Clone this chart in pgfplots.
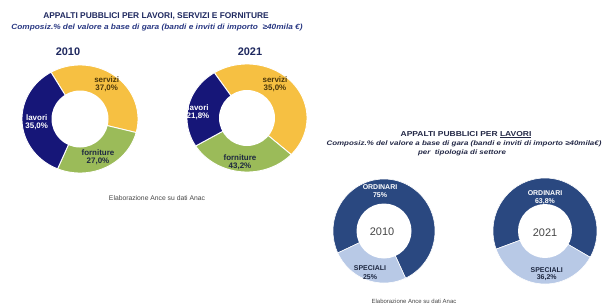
\documentclass[border=0pt]{standalone}
\usepackage{pgfplots}
\usepackage{pgfplotstable}
\pgfplotsset{compat=1.18}
\usepackage{graphicx}
\usepackage{fontspec}
\setmainfont{Liberation Sans}

\definecolor{cNavy}{RGB}{22,22,120}
\definecolor{cYel}{RGB}{246,192,66}
\definecolor{cGreen}{RGB}{155,187,89}
\definecolor{cOrd}{RGB}{42,72,128}
\definecolor{cSpe}{RGB}{184,201,230}
\definecolor{cTitle}{RGB}{30,40,95}
\definecolor{cSub}{RGB}{40,55,130}
\definecolor{cTitleB}{RGB}{35,40,70}
\definecolor{cBrown}{RGB}{75,55,10}
\definecolor{cDark}{RGB}{30,40,65}
\definecolor{cGray}{RGB}{70,70,70}

% shares as drawn in the picture
\pgfplotstableread{
label value color
servizi 37.0 cYel
forniture 27.0 cGreen
lavori 35.0 cNavy
}\tabAa
\pgfplotstableread{
label value color
servizi 46.0 cYel
forniture 29.5 cGreen
lavori 24.5 cNavy
}\tabAb
\pgfplotstableread{
label value color
ORDINARI 75.0 cOrd
SPECIALI 25.0 cSpe
}\tabBa
\pgfplotstableread{
label value color
ORDINARI 63.8 cOrd
SPECIALI 36.2 cSpe
}\tabBb

% #1 table, #2 start angle (clockwise), #3 separator width
\newcommand{\donut}[3]{%
  \pgfplotstablegetrowsof{#1}%
  \pgfmathtruncatemacro\lastrow{\pgfplotsretval-1}%
  \def\donuttot{0}%
  \pgfplotsforeachungrouped \i in {0,...,\lastrow}{%
    \pgfplotstablegetelem{\i}{value}\of{#1}%
    \pgfmathsetmacro\donuttot{\donuttot+\pgfplotsretval}%
  }%
  \def\donutcur{#2}%
  \pgfplotsforeachungrouped \i in {0,...,\lastrow}{%
    \pgfplotstablegetelem{\i}{value}\of{#1}\let\sliceval\pgfplotsretval
    \pgfplotstablegetelem{\i}{color}\of{#1}\let\slicecol\pgfplotsretval
    \pgfmathsetmacro\donutnxt{\donutcur-\sliceval/\donuttot*360}%
    \edef\doslice{\noexpand\addplot[fill=\slicecol,draw=white,line width=#3,domain=\donutnxt:\donutcur,samples=90] ({cos(x)},{sin(x)}) -- (axis cs:0,0) -- cycle;}%
    \doslice
    \let\donutcur\donutnxt
  }%
}

\pgfplotsset{donutax/.style={scale only axis, hide axis, xmin=-1,xmax=1,ymin=-1,ymax=1, anchor=origin}}
\tikzset{
  lab/.style={inner sep=0, font=\bfseries\fontsize{8}{9}\selectfont},
  labR/.style={inner sep=0, font=\bfseries\fontsize{7}{8}\selectfont},
}

\begin{document}
\begin{tikzpicture}
\path[use as bounding box] (0,0) rectangle (603bp,-307bp);

% ---- left panel ----
\node[inner sep=0, text=cTitle, font=\bfseries\fontsize{8.4}{9}\selectfont] at (156bp,-16bp) {APPALTI PUBBLICI PER LAVORI, SERVIZI E FORNITURE};
\node[inner sep=0, text=cSub, font=\bfseries\itshape\fontsize{7.5}{9}\selectfont] at (157bp,-27.5bp) {\scalebox{1.11}[1]{Composiz.\% del valore a base di gara (bandi e inviti di importo \ ≥40mila €)}};
\node[inner sep=0, text=cTitle, font=\bfseries\fontsize{11}{12}\selectfont] at (68bp,-52bp) {2010};
\node[inner sep=0, text=cTitle, font=\bfseries\fontsize{11}{12}\selectfont] at (250bp,-52bp) {2021};

\begin{axis}[donutax, at={(80bp,-119bp)}, width=116bp, height=108bp]
  \donut{\tabAa}{120}{0.9pt}
  \fill[white] (axis cs:0,0) ellipse [x radius=28.5bp, y radius=28.5bp];
\end{axis}
\begin{axis}[donutax, at={(247bp,-118bp)}, width=120bp, height=108bp]
  \donut{\tabAb}{123}{0.9pt}
  \fill[white] (axis cs:0,0) ellipse [x radius=28bp, y radius=28bp];
\end{axis}

\node[lab, text=cBrown] at (106.7bp,-80bp) {servizi};
\node[lab, text=cBrown] at (106.7bp,-88.5bp) {37,0\%};
\node[lab, text=white] at (36.7bp,-118bp) {lavori};
\node[lab, text=white] at (36.7bp,-126.7bp) {35,0\%};
\node[lab, text=cDark] at (98bp,-153bp) {forniture};
\node[lab, text=cDark] at (98bp,-161.7bp) {27,0\%};

\node[lab, text=cBrown] at (275bp,-80bp) {servizi};
\node[lab, text=cBrown] at (275bp,-88.5bp) {35,0\%};
\node[lab, text=white] at (198bp,-107.7bp) {lavori};
\node[lab, text=white] at (198bp,-116.3bp) {21,8\%};
\node[lab, text=cDark] at (240bp,-158bp) {forniture};
\node[lab, text=cDark] at (240bp,-166.7bp) {43,2\%};

\node[inner sep=0, text=cGray, font=\fontsize{6.8}{8}\selectfont] at (157bp,-198bp) {Elaborazione Ance su dati Anac};

% ---- right panel ----
\node[inner sep=0, anchor=base, text=cTitleB, font=\bfseries\fontsize{7.2}{9}\selectfont] at (466bp,-136bp) {\scalebox{1.18}[1]{APPALTI PUBBLICI PER \underline{LAVORI}}};
\node[inner sep=0, anchor=base, text=cTitleB, font=\bfseries\itshape\fontsize{6.6}{8}\selectfont] at (464bp,-145bp) {\scalebox{1.21}[1]{Composiz.\% del valore a base di gara (bandi e inviti di importo ≥40mila€)}};
\node[inner sep=0, anchor=base, text=cTitleB, font=\bfseries\itshape\fontsize{6.6}{8}\selectfont] at (462bp,-154bp) {\scalebox{1.21}[1]{per \ tipologia di settore}};

\begin{axis}[donutax, at={(384bp,-231bp)}, width=102bp, height=104bp]
  \donut{\tabBa}{205}{0.6pt}
  \fill[white] (axis cs:0,0) ellipse [x radius=27.5bp, y radius=27.5bp];
\end{axis}
\begin{axis}[donutax, at={(545bp,-231bp)}, width=104bp, height=106bp]
  \donut{\tabBb}{200}{0.6pt}
  \fill[white] (axis cs:0,0) ellipse [x radius=27bp, y radius=27bp];
\end{axis}

\node[labR, text=white] at (380bp,-186.7bp) {ORDINARI};
\node[labR, text=white] at (380bp,-195bp) {75\%};
\node[inner sep=0, text=cGray, font=\fontsize{11}{12}\selectfont] at (382bp,-232bp) {2010};
\node[labR, text=cDark] at (370bp,-268bp) {SPECIALI};
\node[labR, text=cDark] at (370bp,-276.7bp) {25\%};

\node[labR, text=white] at (545bp,-193bp) {ORDINARI};
\node[labR, text=white] at (545bp,-201.7bp) {63,8\%};
\node[inner sep=0, text=cGray, font=\fontsize{11}{12}\selectfont] at (545bp,-233bp) {2021};
\node[labR, text=cDark] at (546.7bp,-270bp) {SPECIALI};
\node[labR, text=cDark] at (546.7bp,-278bp) {36,2\%};

\node[inner sep=0, text=cGray, font=\fontsize{6}{7}\selectfont] at (414bp,-301.5bp) {Elaborazione Ance su dati Anac};
\end{tikzpicture}
\end{document}
